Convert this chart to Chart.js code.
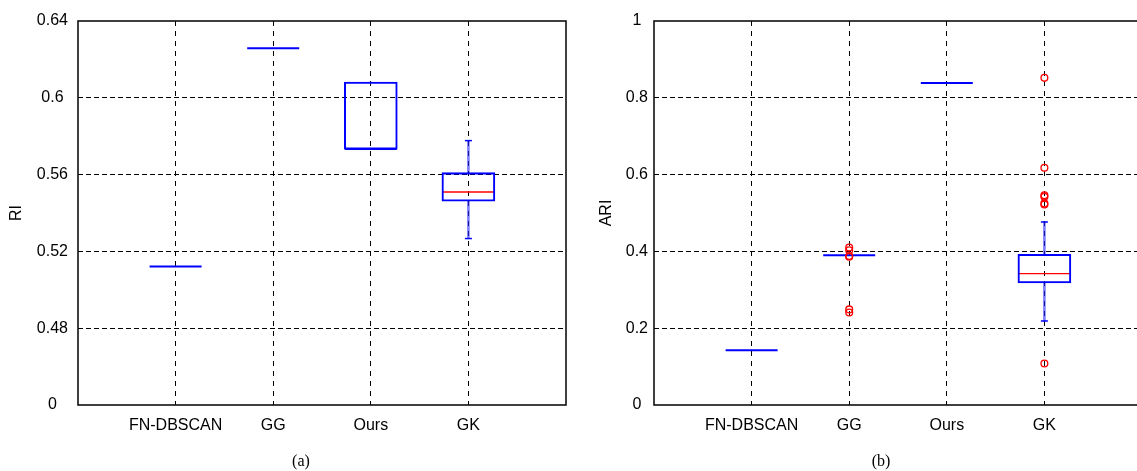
<!DOCTYPE html>
<html><head><meta charset="utf-8">
<script src="https://cdn.jsdelivr.net/npm/chart.js@4.4.0/dist/chart.umd.min.js"></script>
<style>
html,body{margin:0;padding:0;background:#fff;overflow:hidden;width:1137px;height:471px;}
#wrap{position:relative;width:1137px;height:471px;overflow:hidden;background:#fff;}
canvas{position:absolute;top:0;}
#ca{left:0;}
#cb{left:580px;}
.cap{position:absolute;top:452px;font-family:'Liberation Serif','DejaVu Serif',serif;font-size:16px;color:#000;transform:translateX(-50%);}
</style></head>
<body><div id="wrap">
<canvas id="ca" width="580" height="471"></canvas>
<canvas id="cb" width="580" height="471"></canvas>
<div class="cap" style="left:301px">(a)</div>
<div class="cap" style="left:881px">(b)</div>
</div>
<script>
const categories = ['FN-DBSCAN', 'GG', 'Ours', 'GK'];

// Panel (a): RI
const riQ1 = [0.5122, 0.6258, 0.5732, 0.5461];
const riMedian = [0.5122, 0.6258, 0.5732, 0.5509];
const riQ3 = [0.5122, 0.6258, 0.6082, 0.5610];
const riWhiskerLow = [0.5122, 0.6258, 0.5732, 0.5267];
const riWhiskerHigh = [0.5122, 0.6258, 0.6082, 0.5777];
const riOutliers = [[], [], [], []];
const riTicks = [0.44, 0.48, 0.52, 0.56, 0.60, 0.64];
const riTickLabels = ['0', '0.48', '0.52', '0.56', '0.6', '0.64'];

// Panel (b): ARI
const ariQ1 = [0.1424, 0.3898, 0.8385, 0.3177];
const ariMedian = [0.1424, 0.3898, 0.8385, 0.3422];
const ariQ3 = [0.1424, 0.3898, 0.8385, 0.3924];
const ariWhiskerLow = [0.1424, 0.3898, 0.8385, 0.2188];
const ariWhiskerHigh = [0.1424, 0.3898, 0.8385, 0.4766];
const ariOutliers = [[], [0.410, 0.403, 0.388, 0.386, 0.249, 0.241], [], [0.852, 0.618, 0.546, 0.542, 0.525, 0.522, 0.108]];
const ariTicks = [0, 0.2, 0.4, 0.6, 0.8, 1];
const ariTickLabels = ['0', '0.2', '0.4', '0.6', '0.8', '1'];

Chart.defaults.font.family = "'Liberation Sans', Arial, sans-serif";
Chart.defaults.color = '#000';

const BLUE = '#0000ff', RED = '#ff0000';

const framePlugin = {
  id: 'frame',
  afterDatasetsDraw(chart) {
    const {ctx, chartArea: a} = chart;
    ctx.save();
    ctx.strokeStyle = '#000';
    ctx.lineWidth = 1.5;
    ctx.strokeRect(a.left, a.top, a.right - a.left, a.bottom - a.top);
    ctx.restore();
  }
};

function noPad(s) { s.paddingTop = 0; s.paddingBottom = 0; s.paddingLeft = 0; s.paddingRight = 0; }

function makeChart(id, d) {
  const onEdge = i => d.med[i] === d.q1[i] || d.med[i] === d.q3[i];
  const caps = [];
  categories.forEach((c, i) => {
    if (d.hi[i] > d.q3[i]) caps.push({x: i + 1, y: d.hi[i]});
    if (d.lo[i] < d.q1[i]) caps.push({x: i + 1, y: d.lo[i]});
  });
  const outl = [];
  d.out.forEach((arr, i) => arr.forEach(v => outl.push({x: i + 1, y: v})));
  const medians = categories.map((c, i) => ({x: i + 1, y: d.med[i]}));

  return new Chart(document.getElementById(id), {
    type: 'bar',
    data: {
      datasets: [
        { type: 'scatter', data: outl, pointStyle: 'circle', radius: 3.4, borderColor: RED,
          backgroundColor: 'rgba(0,0,0,0)', borderWidth: 1.3, order: 0 },
        { type: 'bar', data: categories.map((c, i) => ({x: i + 1, y: [d.q1[i], d.q3[i]]})),
          backgroundColor: 'rgba(0,0,0,0)', borderColor: BLUE, borderWidth: 1.4, borderSkipped: false,
          barThickness: 53, grouped: false, order: 1 },
        { type: 'scatter', data: medians, pointStyle: 'line', radius: 26,
          borderColor: ctx => onEdge(ctx.dataIndex) ? BLUE : RED,
          borderWidth: ctx => d.q1[ctx.dataIndex] === d.q3[ctx.dataIndex] ? 2 : 1.4, order: 2 },
        { type: 'scatter', data: caps, pointStyle: 'line', radius: 3.5, borderColor: BLUE,
          borderWidth: 1.5, order: 3 },
        { type: 'bar', data: categories.map((c, i) => ({x: i + 1, y: [d.q3[i], d.hi[i]]})),
          backgroundColor: 'rgba(40,40,255,0.6)', borderWidth: 0, barThickness: 2, grouped: false, order: 4 },
        { type: 'bar', data: categories.map((c, i) => ({x: i + 1, y: [d.lo[i], d.q1[i]]})),
          backgroundColor: 'rgba(40,40,255,0.6)', borderWidth: 0, barThickness: 2, grouped: false, order: 4 }
      ]
    },
    options: {
      responsive: false,
      animation: false,
      events: [],
      layout: { autoPadding: false, padding: { top: 21, right: d.padRight, left: 0, bottom: 0 } },
      plugins: { legend: { display: false }, tooltip: { enabled: false } },
      scales: {
        x: {
          type: 'linear', min: 0, max: 5, offset: false,
          afterBuildTicks: s => { s.ticks = categories.map((c, i) => ({value: i + 1})); },
          afterFit: s => { s.height = 66; noPad(s); },
          ticks: { callback: v => categories[Math.round(v) - 1], font: { size: 16 }, padding: 11,
                   maxRotation: 0, autoSkip: false },
          grid: { color: '#000', lineWidth: 1, drawTicks: false, offset: false },
          border: { display: false, dash: [5, 5] }
        },
        y: {
          type: 'linear', min: d.ticks[0], max: d.ticks[d.ticks.length - 1],
          afterBuildTicks: s => { s.ticks = d.ticks.map(v => ({value: v})); },
          afterFit: s => { s.width = d.axisWidth; noPad(s); },
          ticks: { callback: (v, i) => d.tickLabels[i], font: { size: 16 }, padding: d.tickPad,
                   crossAlign: 'center' },
          grid: { color: ctx => (ctx.index === 0 || ctx.index === d.ticks.length - 1) ? 'rgba(0,0,0,0)' : '#000',
                  lineWidth: 1, drawTicks: false },
          border: { display: false, dash: [5, 3] },
          title: { display: true, text: d.title, font: { size: 16 }, padding: { top: d.titlePad, bottom: 0 } }
        }
      }
    },
    plugins: [framePlugin]
  });
}

makeChart('ca', { q1: riQ1, med: riMedian, q3: riQ3, lo: riWhiskerLow, hi: riWhiskerHigh, out: riOutliers,
  ticks: riTicks, tickLabels: riTickLabels, title: 'RI', axisWidth: 78, padRight: 14, tickPad: 10, titlePad: 7 });
makeChart('cb', { q1: ariQ1, med: ariMedian, q3: ariQ3, lo: ariWhiskerLow, hi: ariWhiskerHigh, out: ariOutliers,
  ticks: ariTicks, tickLabels: ariTickLabels, title: 'ARI', axisWidth: 74, padRight: 18, tickPad: 6, titlePad: 17 });
</script>
</body></html>
